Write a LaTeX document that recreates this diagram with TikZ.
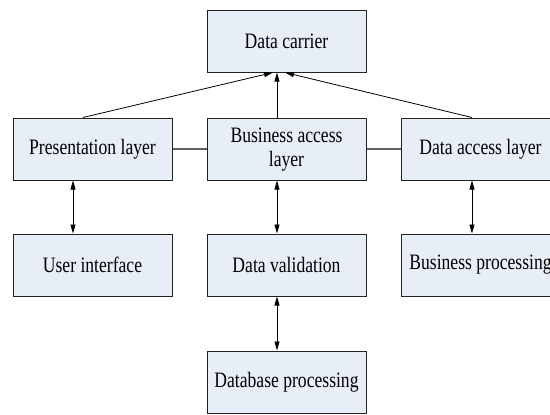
\documentclass[tikz,border=0pt]{standalone}
\usepackage{fontspec}
\setmainfont{Liberation Serif}
\usetikzlibrary{arrows.meta,calc}
\definecolor{boxfill}{HTML}{E8EEF7}
\definecolor{boxline}{HTML}{222222}
\definecolor{linkgray}{HTML}{606060}
\tikzset{
  blk/.style={draw=boxline,line width=1pt,fill=boxfill,minimum width=159pt,minimum height=62pt,inner sep=0pt,
    font=\fontsize{22}{25}\selectfont},
  arr/.style={draw=black,line width=0.8pt,-{Triangle[length=9pt,width=5pt]}},
  darr/.style={draw=black,line width=0.8pt,{Triangle[length=9pt,width=5pt]}-{Triangle[length=9pt,width=5pt]}},
  link/.style={draw=linkgray,line width=1.2pt}
}
\newcommand{\sq}[1]{\scalebox{0.8}[1]{#1}}
\begin{document}
\begin{tikzpicture}[x=1pt,y=-1pt]
\clip (0,0) rectangle (550,415);
\fill[white] (0,0) rectangle (550,415);
\node[blk] (carrier) at (286.5,41) {\sq{Data carrier}};
\node[blk] (pres) at (92.5,149) {\sq{Presentation layer}};
\node[blk] (bus) at (286.5,149) {\sq{\begin{tabular}{@{}c@{}}Business access\\[-1pt]layer\end{tabular}}};
\node[blk] (dal) at (480.5,149) {\sq{Data access layer}};
\node[blk] (ui) at (92.5,265) {\sq{User interface}};
\node[blk] (val) at (286.5,265) {\sq{Data validation}};
\node[blk] (bp) at (480.5,265) {\sq{Business processing}};
\node[blk] (db) at (286.5,382) {\sq{Database processing}};
\draw[link] (pres.east) -- (bus.west);
\draw[link] (bus.east) -- (dal.west);
\draw[arr] ($(pres.north)+(-9.5,0)$) -- ($(carrier.south)+(-13.5,0)$);
\draw[arr] ($(bus.north)+(-9.5,0)$) -- ($(carrier.south)+(-9.5,0)$);
\draw[arr] ($(dal.north)+(-8.5,0)$) -- ($(carrier.south)+(-1.5,0)$);
\draw[darr] ($(pres.south)+(-19.5,0)$) -- ($(ui.north)+(-19.5,0)$);
\draw[darr] ($(bus.south)+(-9.5,0)$) -- ($(val.north)+(-9.5,0)$);
\draw[darr] ($(dal.south)+(-8.5,0)$) -- ($(bp.north)+(-8.5,0)$);
\draw[darr] ($(val.south)+(-9.5,0)$) -- ($(db.north)+(-9.5,0)$);
\end{tikzpicture}
\end{document}
